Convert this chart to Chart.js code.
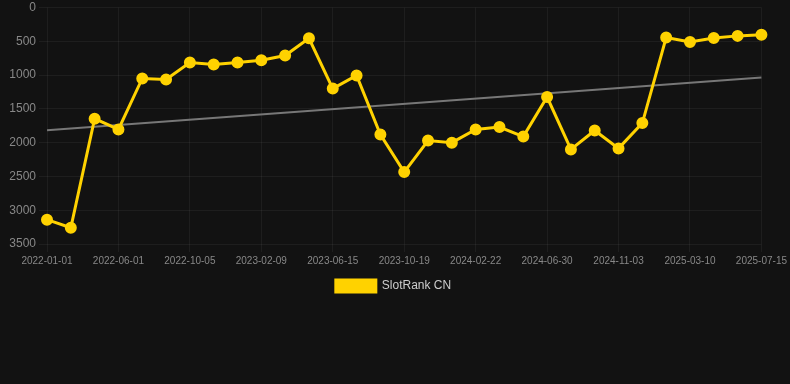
<!DOCTYPE html>
<html>
<head>
<meta charset="utf-8">
<script src="https://cdn.jsdelivr.net/npm/chart.js@4"></script>
<style>
  html, body { margin: 0; padding: 0; background: #121212; }
  #wrap { width: 790px; height: 384px; }
</style>
</head>
<body>
<div id="wrap"><canvas id="rankChart"></canvas></div>
<script>
const dates = [
  "2022-01-01", "2022-02-20", "2022-04-11", "2022-06-01", "2022-07-13", "2022-08-24",
  "2022-10-05", "2022-11-16", "2022-12-28", "2023-02-09", "2023-03-23", "2023-05-04",
  "2023-06-15", "2023-07-27", "2023-09-07", "2023-10-19", "2023-11-30", "2024-01-11",
  "2024-02-22", "2024-04-04", "2024-05-17", "2024-06-30", "2024-08-11", "2024-09-22",
  "2024-11-03", "2024-12-15", "2025-01-27", "2025-03-10", "2025-04-21", "2025-06-02",
  "2025-07-15"
];
const rankCN = [
  3140, 3260, 1645, 1805, 1050, 1065, 815, 845, 815, 780,
  710, 455, 1200, 1005, 1880, 2435, 1970, 2000, 1805, 1770,
  1910, 1325, 2100, 1820, 2085, 1710, 445, 510, 450, 420,
  405
];
const trendStart = 1815;
const trendEnd = 1035;
const yTicks = [0, 500, 1000, 1500, 2000, 2500, 3000, 3500];

const trend = dates.map((d, i) => i === 0 ? trendStart : (i === dates.length - 1 ? trendEnd : null));

new Chart(document.getElementById("rankChart"), {
  type: "line",
  data: {
    labels: dates,
    datasets: [
      {
        label: "SlotRank CN",
        data: rankCN,
        borderColor: "#ffd200",
        backgroundColor: "#ffd200",
        borderWidth: 3,
        pointRadius: 4.5,
        pointHoverRadius: 4.5,
        tension: 0,
        fill: false
      },
      {
        label: "trend",
        data: trend,
        borderColor: "#777777",
        borderWidth: 2,
        pointRadius: 0,
        spanGaps: true,
        fill: false
      }
    ]
  },
  options: {
    responsive: true,
    maintainAspectRatio: false,
    animation: false,
    layout: { padding: { top: 0, right: 3, bottom: 82, left: 0 } },
    plugins: {
      tooltip: { enabled: false },
      legend: {
        position: "bottom",
        labels: {
          color: "#cccccc",
          font: { family: "Arial, 'Liberation Sans', sans-serif", size: 12 },
          boxWidth: 40,
          boxHeight: 12,
          filter: item => item.text !== "trend"
        }
      }
    },
    scales: {
      x: {
        grid: { color: "rgba(255,255,255,0.05)", tickLength: 8 },
        border: { display: false },
        ticks: {
          color: "#888888",
          font: { family: "Arial, 'Liberation Sans', sans-serif", size: 10 },
          autoSkip: false,
          maxRotation: 0,
          callback: function (val, i) { return i % 3 === 0 ? dates[i] : null; }
        }
      },
      y: {
        reverse: true,
        min: 0,
        max: 3500,
        afterBuildTicks: axis => { axis.ticks = yTicks.map(v => ({ value: v })); },
        afterFit: axis => { axis.paddingTop = 6; axis.width = 47; },
        grid: { color: "rgba(255,255,255,0.05)", tickLength: 8 },
        border: { display: false },
        ticks: {
          color: "#888888",
          font: { family: "Arial, 'Liberation Sans', sans-serif", size: 12 },
          callback: v => String(v)
        }
      }
    }
  }
});
</script>
</body>
</html>
